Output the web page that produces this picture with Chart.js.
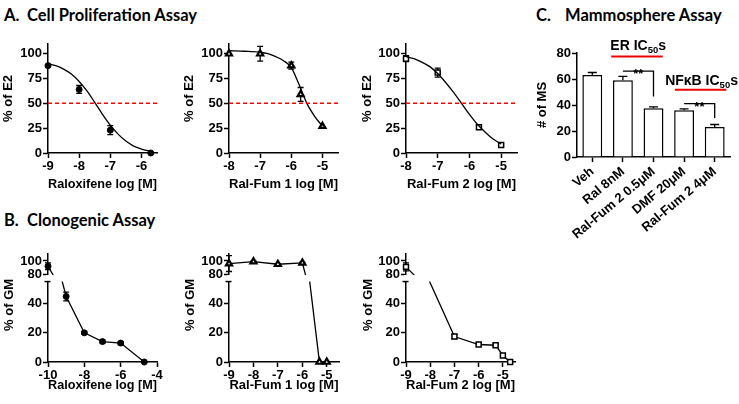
<!DOCTYPE html>
<html>
<head>
<meta charset="utf-8">
<script src="https://cdn.jsdelivr.net/npm/chart.js@4.4.1/dist/chart.umd.min.js"></script>
<style>
  body { margin: 0; background: #fff; width: 739px; height: 404px; position: relative; overflow: hidden; }
  .head { position: absolute; font-family: Lato, sans-serif; font-weight: bold; font-size: 16.5px; line-height: 20px; color: #000; white-space: nowrap; }
  .box { position: absolute; }
</style>
</head>
<body>
<div class="head" style="left:4px;top:5px">A.</div>
<div class="head" style="left:27px;top:5px">Cell Proliferation Assay</div>
<div class="head" style="left:4px;top:210px">B.</div>
<div class="head" style="left:27px;top:210px">Clonogenic Assay</div>
<div class="head" style="left:536px;top:5px">C.</div>
<div class="head" style="left:565px;top:5px">Mammosphere Assay</div>

<div class="box" style="left:0;top:35px;width:168px;height:165px"><canvas id="a1"></canvas></div>
<div class="box" style="left:181px;top:35px;width:168px;height:165px"><canvas id="a2"></canvas></div>
<div class="box" style="left:359px;top:35px;width:169px;height:165px"><canvas id="a3"></canvas></div>
<div class="box" style="left:0;top:245px;width:168px;height:156px"><canvas id="b1"></canvas></div>
<div class="box" style="left:181px;top:245px;width:168px;height:156px"><canvas id="b2"></canvas></div>
<div class="box" style="left:359px;top:245px;width:169px;height:156px"><canvas id="b3"></canvas></div>
<div class="box" style="left:534px;top:30px;width:205px;height:220px"><canvas id="c1"></canvas></div>

<script>
// A. cell proliferation (log [M], % of E2, error)
const ralDoseA = [-9, -8, -7, -5.7];
const ralE2 = [88, 64, 23, 0];
const ralE2Err = [1, 4, 4.5, 0];
const ralFitX = [-9, -8.75, -8.5, -8.25, -8, -7.75, -7.5, -7.25, -7, -6.75, -6.5, -6.25, -6, -5.7];
const ralFitY = [90, 88, 84.5, 79.5, 72, 62.5, 51, 39, 28, 19, 12, 7, 4, 1.5];

const rf1DoseA = [-8, -7, -6, -5.7, -5];
const rf1E2 = [100, 100, 88, 59, 27];
const rf1E2Err = [0, 7.5, 3.5, 7, 0];
const rf1FitX = [-8, -7.5, -7, -6.75, -6.5, -6.25, -6, -5.75, -5.5, -5.25, -5];
const rf1FitY = [103, 102.5, 101.5, 100, 97, 93, 86, 69, 50, 37, 27];

const rf2DoseA = [-8, -7, -5.7, -5];
const rf2E2 = [95, 81, 26, 8];
const rf2E2Err = [3, 4.5, 2, 1];
const rf2FitX = [-8, -7.75, -7.5, -7.25, -7, -6.75, -6.5, -6.25, -6, -5.75, -5.5, -5.25, -5];
const rf2FitY = [97, 95, 91.5, 87, 80, 71, 61, 50, 39, 29, 21, 14, 9];

const ic50Line = 50;

// B. clonogenic (log [M], % of GM, error)
const ralDoseB = [-10, -9, -8, -7, -6, -4.7];
const ralGM = [92, 45, 20, 14, 13, 0];
const ralGMErr = [5, 3, 1, 1, 1, 0];
const rf1DoseB = [-9, -8, -7, -6, -5.3, -5];
const rf1GM = [96, 99, 95, 97, 0, 0];
const rf1GMErr = [12, 1, 1, 1, 0, 0];
const rf2DoseB = [-9, -7, -6, -5.3, -5, -4.7];
const rf2GM = [91, 17.5, 12, 11.5, 4.5, 0];
const rf2GMErr = [6, 1.5, 1, 1, 1, 0];

// C. mammosphere
const msLabels = ['Veh', 'Ral 8nM', 'Ral-Fum 2 0.5μM', 'DMF 20μM', 'Ral-Fum 2 4μM'];
const msCount = [63, 59, 37.5, 36, 23];
const msErr = [2, 3, 1, 1, 2];

const FONT = "'Liberation Sans', Arial, sans-serif";
const f13 = {family: FONT, size: 13, weight: 'bold', lineHeight: 1.2};
const tickOpts = {color: '#000', font: f13, padding: 1, includeBounds: false, maxRotation: 0, autoSkip: false};
const gridOpts = {drawOnChartArea: false, tickLength: 5, tickWidth: 1.5, tickColor: '#000'};
const borderOpts = {color: '#000', width: 1.5};

const dot = {pointStyle: 'circle', pointRadius: 3, pointBackgroundColor: '#000', pointBorderColor: '#000', pointBorderWidth: 1};
const tri = {pointStyle: 'triangle', pointRadius: 3.5, pointBackgroundColor: '#fff', pointBorderColor: '#000', pointBorderWidth: 2.2};
const sq = {pointStyle: 'rect', pointRadius: 3.5, pointBackgroundColor: '#fff', pointBorderColor: '#000', pointBorderWidth: 1.5};

function pts(xs, ys) {
  return xs.map((x, i) => ({x: x, y: ys[i]}));
}

function xAxis(range, step, title, h) {
  return {
    type: 'linear', min: range[0], max: range[1],
    ticks: Object.assign({stepSize: step}, tickOpts),
    grid: gridOpts, border: borderOpts,
    title: {display: true, text: title, color: '#000', font: f13, padding: {top: 0, bottom: 8}},
    afterFit: s => { s.height = h; }
  };
}

function yAxis(range, step, title, w, extra) {
  return Object.assign({
    type: 'linear', position: 'left', min: range[0], max: range[1],
    ticks: Object.assign({stepSize: step}, tickOpts),
    grid: gridOpts, border: borderOpts,
    title: {display: !!title, text: title, color: '#000', font: f13, padding: {top: 1, bottom: 0}},
    afterFit: s => { s.width = w; }
  }, extra || {});
}

function baseOpts(pad, scales) {
  return {
    responsive: true, maintainAspectRatio: false, animation: false, events: [],
    layout: {padding: pad},
    plugins: {legend: {display: false}, tooltip: {enabled: false}},
    scales: scales
  };
}

// error bars, plus clipping of each half of a broken axis
const errorBars = {
  id: 'errorBars',
  beforeDatasetDraw(chart, args) {
    const ds = chart.data.datasets[args.index];
    const ctx = chart.ctx, area = chart.chartArea;
    const ys = chart.scales[args.meta.yAxisID];
    if (ds.band) {
      const top = ds.band === 'upper' ? ys.top - 8 : ys.top;
      const bottom = ds.band === 'upper' ? ys.bottom : ys.bottom + 8;
      ctx.save();
      ctx.beginPath();
      ctx.rect(area.left - 8, top, area.width + 16, bottom - top);
      ctx.clip();
    }
    if (!ds.errors) return;
    ctx.save();
    ctx.strokeStyle = '#000';
    ctx.lineWidth = 1.3;
    args.meta.data.forEach((el, i) => {
      const e = ds.errors[i];
      if (!e) return;
      const raw = ds.data[i];
      const v = typeof raw === 'number' ? raw : raw.y;
      const hi = ys.getPixelForValue(v + e);
      const lo = ds.upOnly ? el.y : ys.getPixelForValue(v - e);
      const c = ds.capHalf || 3;
      ctx.beginPath();
      ctx.moveTo(el.x, lo); ctx.lineTo(el.x, hi);
      ctx.moveTo(el.x - c, hi); ctx.lineTo(el.x + c, hi);
      if (!ds.upOnly) { ctx.moveTo(el.x - c, lo); ctx.lineTo(el.x + c, lo); }
      ctx.stroke();
    });
    ctx.restore();
  },
  afterDatasetDraw(chart, args) {
    if (chart.data.datasets[args.index].band) chart.ctx.restore();
  }
};

// gap between the two halves of the broken y axis
const axisBreak = {
  id: 'axisBreak',
  afterDatasetsDraw(chart) {
    const s = chart.scales.yTop, a = chart.chartArea, ctx = chart.ctx;
    const g0 = s.bottom - 3, g1 = s.bottom + 3.5;
    ctx.save();
    ctx.fillStyle = '#fff';
    ctx.fillRect(a.left - 2, g0, a.width + 6, g1 - g0);
    ctx.strokeStyle = '#000';
    ctx.lineWidth = 1.5;
    ctx.beginPath();
    ctx.moveTo(a.left - 3.5, g1); ctx.lineTo(a.left + 2.5, g1);
    ctx.stroke();
    ctx.restore();
  }
};

const gmTitle = {
  id: 'gmTitle',
  afterDraw(chart) {
    const ctx = chart.ctx, a = chart.chartArea;
    ctx.save();
    ctx.translate(9, (a.top + a.bottom) / 2 - 3);
    ctx.rotate(-Math.PI / 2);
    ctx.font = 'bold 13px ' + FONT;
    ctx.fillStyle = '#000';
    ctx.textAlign = 'center';
    ctx.textBaseline = 'middle';
    ctx.fillText('% of GM', 0, 0);
    ctx.restore();
  }
};

function prolifChart(id, yW, padR, xr, dose, vals, errs, fitX, fitY, marker, xTitle) {
  new Chart(document.getElementById(id), {
    type: 'scatter',
    data: {datasets: [
      {data: [{x: xr[0], y: ic50Line}, {x: xr[1], y: ic50Line}], showLine: true, borderColor: '#f00',
       borderWidth: 1.5, borderDash: [4, 3], pointRadius: 0, clip: false},
      {data: pts(fitX, fitY), showLine: true, borderColor: '#000', borderWidth: 1.3, pointRadius: 0,
       cubicInterpolationMode: 'monotone', clip: false},
      Object.assign({data: pts(dose, vals), errors: errs, clip: false}, marker)
    ]},
    options: baseOpts({left: 0, top: 7, right: padR, bottom: 0}, {
      x: xAxis(xr, 1, xTitle, 47),
      y: yAxis([0, 110], 25, '% of E2', yW)
    }),
    plugins: [errorBars]
  });
}

function clonoChart(id, yW, padR, xr, xStep, dose, vals, errs, marker, xTitle) {
  const line = {showLine: true, borderColor: '#000', borderWidth: 1.3, tension: 0, clip: false, errors: errs};
  new Chart(document.getElementById(id), {
    type: 'scatter',
    data: {datasets: [
      Object.assign({data: pts(dose, vals), yAxisID: 'y', band: 'lower'}, line, marker),
      Object.assign({data: pts(dose, vals), yAxisID: 'yTop', band: 'upper'}, line, marker)
    ]},
    options: baseOpts({left: 0, top: 6.7, right: padR, bottom: 0}, {
      x: xAxis(xr, xStep, xTitle, 39),
      y: yAxis([0, 57.6], 20, '', yW, {stack: 'gm', stackWeight: 85.8}),
      yTop: yAxis([74.1, 110.8], 20, '', yW, {axis: 'y', stack: 'gm', stackWeight: 24.8})
    }),
    plugins: [errorBars, axisBreak, gmTitle]
  });
}

prolifChart('a1', 48, 11, [-9, -5.5], ralDoseA, ralE2, ralE2Err, ralFitX, ralFitY, dot, 'Raloxifene log [M]');
prolifChart('a2', 48, 11, [-8, -4.5], rf1DoseA, rf1E2, rf1E2Err, rf1FitX, rf1FitY, tri, 'Ral-Fum 1 log [M]');
prolifChart('a3', 47, 11, [-8, -4.5], rf2DoseA, rf2E2, rf2E2Err, rf2FitX, rf2FitY, sq, 'Ral-Fum 2 log [M]');

clonoChart('b1', 48, 11, [-10, -4], 2, ralDoseB, ralGM, ralGMErr, dot, 'Raloxifene log [M]');
clonoChart('b2', 48, 10, [-9, -4.5], 1, rf1DoseB, rf1GM, rf1GMErr, tri, 'Ral-Fum 1 log [M]');
clonoChart('b3', 47, 13, [-9, -4.5], 1, rf2DoseB, rf2GM, rf2GMErr, sq, 'Ral-Fum 2 log [M]');

// labels, red IC50 bars and significance brackets over the bar chart
function icLabel(ctx, pre, cx, cy) {
  const big = 'bold 14px ' + FONT, small = 'bold 9.5px ' + FONT;
  ctx.font = big; const w1 = ctx.measureText(pre + 'IC').width, w3 = ctx.measureText('s').width;
  ctx.font = small; const w2 = ctx.measureText('50').width;
  let x = cx - (w1 + w2 + w3) / 2;
  ctx.textAlign = 'left';
  ctx.textBaseline = 'middle';
  ctx.font = big; ctx.fillText(pre + 'IC', x, cy); x += w1;
  ctx.font = small; ctx.fillText('50', x, cy + 4); x += w2;
  ctx.font = big; ctx.fillText('s', x, cy);
}

const msMarks = {
  id: 'msMarks',
  afterDraw(chart) {
    const ctx = chart.ctx, xs = chart.scales.x, ys = chart.scales.y;
    const px = i => xs.getPixelForValue(0) + i * (xs.getPixelForValue(1) - xs.getPixelForValue(0));
    const py = v => ys.getPixelForValue(v);
    ctx.save();
    ctx.fillStyle = '#000';
    icLabel(ctx, 'ER ', px(1.5), py(85));
    icLabel(ctx, 'NFκB ', px(3.57), py(58.5));
    ctx.strokeStyle = '#e00';
    ctx.lineWidth = 2;
    ctx.beginPath();
    ctx.moveTo(px(0.62), py(77.4)); ctx.lineTo(px(2.3), py(77.4));
    ctx.moveTo(px(2.7), py(51.8)); ctx.lineTo(px(4.38), py(51.8));
    ctx.stroke();
    ctx.strokeStyle = '#000';
    ctx.lineWidth = 1.3;
    ctx.beginPath();
    ctx.moveTo(px(1), py(66)); ctx.lineTo(px(2), py(66)); ctx.lineTo(px(2), py(46.5));
    ctx.moveTo(px(3), py(41)); ctx.lineTo(px(4), py(41)); ctx.lineTo(px(4), py(30));
    ctx.stroke();
    ctx.font = 'bold 13px ' + FONT;
    ctx.textAlign = 'center';
    ctx.textBaseline = 'alphabetic';
    ctx.fillText('**', px(1.5), py(66) + 7);
    ctx.fillText('**', px(3.5), py(41) + 7);
    ctx.restore();
  }
};

new Chart(document.getElementById('c1'), {
  type: 'bar',
  data: {
    labels: msLabels,
    datasets: [{
      data: msCount, errors: msErr, upOnly: true, capHalf: 4.5,
      backgroundColor: '#fff', borderColor: '#000', borderWidth: 1.5,
      barPercentage: 0.65, categoryPercentage: 1
    }]
  },
  options: baseOpts({left: 0, top: 23, right: 9, bottom: 0}, {
    x: {
      ticks: {color: '#000', font: f13, minRotation: 40, maxRotation: 40, autoSkip: false, padding: 2},
      grid: {drawOnChartArea: false, offset: false, tickLength: 5, tickWidth: 1.5, tickColor: '#000'},
      border: borderOpts,
      afterFit: s => { s.height = 93; }
    },
    y: yAxis([0, 80], 20, '# of MS', 43)
  }),
  plugins: [errorBars, msMarks]
});
</script>
</body>
</html>
